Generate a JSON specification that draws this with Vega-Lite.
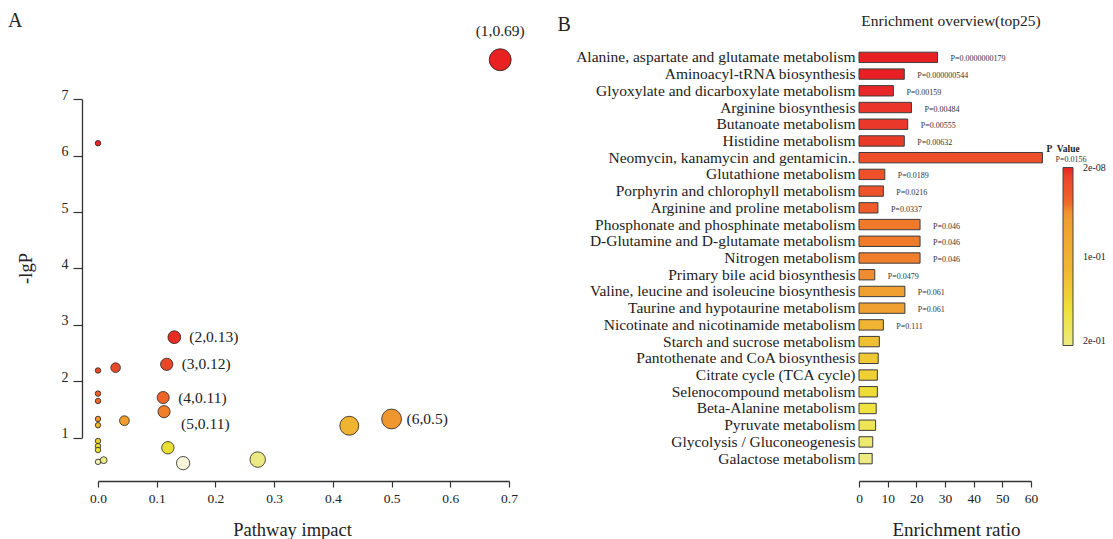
{
  "$schema": "https://vega.github.io/schema/vega-lite/v6.json",
  "padding": {"left": 8, "top": 10, "right": 0, "bottom": 0},
  "autosize": {"type": "pad"},
  "background": "white",
  "spacing": 32,
  "config": {
    "view": {"stroke": null},
    "font": "Liberation Serif",
    "axis": {"labelFont": "Liberation Serif", "titleFont": "Liberation Serif", "labelColor": "#222", "titleColor": "#222", "domainColor": "#333", "tickColor": "#333", "domainWidth": 1.3, "tickWidth": 1.2, "titleFontWeight": "normal", "grid": false, "labelOverlap": false, "labelFlush": false, "labelBound": false},
    "title": {"font": "Liberation Serif", "fontWeight": "normal", "color": "#222"},
    "legend": {"labelFont": "Liberation Serif", "titleFont": "Liberation Serif", "labelColor": "#222", "titleColor": "#222"}
  },
  "resolve": {"scale": {"color": "independent", "x": "independent", "y": "independent", "size": "independent"}, "legend": {"color": "independent", "size": "independent"}},
  "hconcat": [
    {
      "width": 411,
      "height": 418,
      "title": {"text": "A", "anchor": "start", "frame": "group", "fontSize": 20, "dx": -90, "offset": 0, "dy": 7},
      "data": {"values": [
        {"impact": 0.685, "lgp": 7.70, "label": "(1,0.69)"},
        {"impact": 0.0, "lgp": 6.22, "label": ""},
        {"impact": 0.130, "lgp": 2.78, "label": "(2,0.13)"},
        {"impact": 0.117, "lgp": 2.30, "label": "(3,0.12)"},
        {"impact": 0.030, "lgp": 2.24, "label": ""},
        {"impact": 0.0, "lgp": 2.19, "label": ""},
        {"impact": 0.0, "lgp": 1.78, "label": ""},
        {"impact": 0.111, "lgp": 1.71, "label": "(4,0.11)"},
        {"impact": 0.0, "lgp": 1.65, "label": ""},
        {"impact": 0.1125, "lgp": 1.46, "label": "(5,0.11)"},
        {"impact": 0.0, "lgp": 1.33, "label": ""},
        {"impact": 0.500, "lgp": 1.33, "label": "(6,0.5)"},
        {"impact": 0.045, "lgp": 1.30, "label": ""},
        {"impact": 0.0, "lgp": 1.22, "label": ""},
        {"impact": 0.428, "lgp": 1.21, "label": ""},
        {"impact": 0.0, "lgp": 0.94, "label": ""},
        {"impact": 0.0, "lgp": 0.85, "label": ""},
        {"impact": 0.119, "lgp": 0.82, "label": ""},
        {"impact": 0.0, "lgp": 0.78, "label": ""},
        {"impact": 0.272, "lgp": 0.61, "label": ""},
        {"impact": 0.0097, "lgp": 0.60, "label": ""},
        {"impact": 0.0, "lgp": 0.57, "label": ""},
        {"impact": 0.145, "lgp": 0.547, "label": ""}
      ]},
      "encoding": {
        "x": {"field": "impact", "type": "quantitative",
              "scale": {"domain": [0, 0.7], "nice": false, "zero": false},
              "axis": {"values": [0, 0.1, 0.2, 0.3, 0.4, 0.5, 0.6, 0.7], "format": ".1f", "offset": 14, "tickSize": 6, "labelFontSize": 13.5, "labelPadding": 4,
                       "labelOverlap": false, "labelFlush": false, "labelBound": false, "labelSeparation": 0,
                       "title": "Pathway impact", "titleFontSize": 18.5, "titleX": 194, "titleY": 54, "titleBaseline": "alphabetic", "titleAlign": "center"}},
        "y": {"field": "lgp", "type": "quantitative",
              "scale": {"domain": [1, 7], "range": [388.6, 50.2], "nice": false, "zero": false},
              "axis": {"values": [1, 2, 3, 4, 5, 6, 7], "format": "d", "domain": true, "ticks": true, "offset": 16, "tickSize": 9, "labelFontSize": 14, "labelPadding": 5, "labelBaseline": "alphabetic",
                       "labelOverlap": false, "labelFlush": false, "labelBound": false,
                       "title": "-lgP", "titleFontSize": 18.5, "titleX": -47, "titleY": 219, "titleAlign": "center"}}
      },
      "layer": [
        {
          "mark": {"type": "circle", "opacity": 1, "stroke": "#222", "strokeWidth": 0.8},
          "encoding": {
            "size": {"field": "impact", "type": "quantitative", "legend": null,
                     "scale": {"domain": [0, 0.01, 0.03, 0.045, 0.11, 0.145, 0.272, 0.43, 0.5, 0.685], "range": [30, 48, 92, 95, 145, 177, 240, 360, 394, 483]}},
            "color": {"field": "lgp", "type": "quantitative", "legend": null,
                      "scale": {"domain": [0.54, 0.58, 0.62, 0.8, 0.96, 1.22, 1.33, 1.47, 1.72, 2.2, 2.8, 7.75],
                                "range": ["#FAF7E4", "#EFEB9E", "#EAE878", "#E8E036", "#EACC30", "#F0B232", "#F0962E", "#F07C2A", "#EE6428", "#E84C26", "#E82C22", "#E82222"],
                                "interpolate": "rgb"}}
          }
        },
        {
          "transform": [{"filter": {"field": "label", "oneOf": ["(2,0.13)", "(3,0.12)", "(4,0.11)", "(6,0.5)"]}}],
          "mark": {"type": "text", "align": "left", "baseline": "middle", "dx": 15, "dy": 0, "fontSize": 15.5, "font": "Liberation Serif", "color": "#222"},
          "encoding": {"text": {"field": "label"}}
        },
        {
          "transform": [{"filter": {"field": "label", "equal": "(5,0.11)"}}],
          "mark": {"type": "text", "align": "left", "baseline": "middle", "dx": 17, "dy": 12, "fontSize": 15.5, "font": "Liberation Serif", "color": "#222"},
          "encoding": {"text": {"field": "label"}}
        },
        {
          "transform": [{"filter": {"field": "label", "equal": "(1,0.69)"}}],
          "mark": {"type": "text", "align": "center", "baseline": "middle", "dy": -29, "fontSize": 15.5, "font": "Liberation Serif", "color": "#222"},
          "encoding": {"text": {"field": "label"}}
        }
      ]
    },
    {
      "width": 172,
      "height": 418,
      "title": {"text": "Enrichment overview(top25)", "anchor": "middle", "frame": "group", "fontSize": 15.5, "dx": 6, "offset": 0, "dy": 15},
      "data": {"values": [
        {"name": "Alanine, aspartate and glutamate metabolism", "ratio": 27.4, "p": 0.0000000179, "plabel": "P=0.0000000179"},
        {"name": "Aminoacyl-tRNA biosynthesis", "ratio": 15.8, "p": 0.000000544, "plabel": "P=0.000000544"},
        {"name": "Glyoxylate and dicarboxylate metabolism", "ratio": 12.0, "p": 0.00159, "plabel": "P=0.00159"},
        {"name": "Arginine biosynthesis", "ratio": 18.3, "p": 0.00484, "plabel": "P=0.00484"},
        {"name": "Butanoate metabolism", "ratio": 17.0, "p": 0.00555, "plabel": "P=0.00555"},
        {"name": "Histidine metabolism", "ratio": 15.8, "p": 0.00632, "plabel": "P=0.00632"},
        {"name": "Neomycin, kanamycin and gentamicin..", "ratio": 64.0, "p": 0.0156, "plabel": "P=0.0156"},
        {"name": "Glutathione metabolism", "ratio": 9.0, "p": 0.0189, "plabel": "P=0.0189"},
        {"name": "Porphyrin and chlorophyll metabolism", "ratio": 8.5, "p": 0.0216, "plabel": "P=0.0216"},
        {"name": "Arginine and proline metabolism", "ratio": 6.6, "p": 0.0337, "plabel": "P=0.0337"},
        {"name": "Phosphonate and phosphinate metabolism", "ratio": 21.3, "p": 0.046, "plabel": "P=0.046"},
        {"name": "D-Glutamine and D-glutamate metabolism", "ratio": 21.3, "p": 0.0462, "plabel": "P=0.046"},
        {"name": "Nitrogen metabolism", "ratio": 21.3, "p": 0.0464, "plabel": "P=0.046"},
        {"name": "Primary bile acid biosynthesis", "ratio": 5.5, "p": 0.0479, "plabel": "P=0.0479"},
        {"name": "Valine, leucine and isoleucine biosynthesis", "ratio": 16.0, "p": 0.061, "plabel": "P=0.061"},
        {"name": "Taurine and hypotaurine metabolism", "ratio": 16.0, "p": 0.061, "plabel": "P=0.061"},
        {"name": "Nicotinate and nicotinamide metabolism", "ratio": 8.5, "p": 0.111, "plabel": "P=0.111"},
        {"name": "Starch and sucrose metabolism", "ratio": 7.1, "p": 0.125, "plabel": ""},
        {"name": "Pantothenate and CoA biosynthesis", "ratio": 6.7, "p": 0.135, "plabel": ""},
        {"name": "Citrate cycle (TCA cycle)", "ratio": 6.4, "p": 0.145, "plabel": ""},
        {"name": "Selenocompound metabolism", "ratio": 6.4, "p": 0.155, "plabel": ""},
        {"name": "Beta-Alanine metabolism", "ratio": 6.0, "p": 0.165, "plabel": ""},
        {"name": "Pyruvate metabolism", "ratio": 5.8, "p": 0.175, "plabel": ""},
        {"name": "Glycolysis / Gluconeogenesis", "ratio": 4.8, "p": 0.19, "plabel": ""},
        {"name": "Galactose metabolism", "ratio": 4.6, "p": 0.2, "plabel": ""}
      ]},
      "encoding": {
        "y": {"field": "name", "type": "nominal", "sort": null,
              "scale": {"paddingInner": 0.38, "paddingOuter": 0.19},
              "axis": {"title": "B", "titleAngle": 0, "titleX": -302, "titleY": -19, "titleAlign": "left", "titleBaseline": "alphabetic", "titleFontSize": 20,
                       "labelFontSize": 15.5, "ticks": false, "domain": false, "labelPadding": 4, "labelLimit": 400}},
        "x": {"field": "ratio", "type": "quantitative",
              "scale": {"domain": [0, 60], "nice": false},
              "axis": {"values": [0, 10, 20, 30, 40, 50, 60], "offset": 14, "tickSize": 6, "labelFontSize": 13.5, "labelPadding": 4,
                       "labelOverlap": false, "labelFlush": false, "labelBound": false, "labelSeparation": 0,
                       "title": "Enrichment ratio", "titleFontSize": 19, "titleX": 97, "titleY": 54, "titleBaseline": "alphabetic", "titleAlign": "center"}}
      },
      "layer": [
        {
          "mark": {"type": "bar", "stroke": "#3c3c3c", "strokeWidth": 1},
          "encoding": {
            "color": {"field": "p", "type": "quantitative",
                      "scale": {"domain": [0.2, 0.16, 0.14, 0.111, 0.061, 0.048, 0.046, 0.034, 0.016, 0.006, 0.002, 0],
                                "range": ["#ECEA80", "#EEE238", "#F0CC34", "#F0B432", "#F0A030", "#F08E30", "#F07A2A", "#EE5C2A", "#EE4E2A", "#EA3A2A", "#E8282A", "#E82024"],
                                "interpolate": "rgb"},
                      "legend": {"orient": "none", "legendX": 187, "legendY": 95, "title": "P\u00a0 Value", "titleFontSize": 9.5, "titleFontWeight": "bold",
                                 "titleAnchor": "start", "titleAlign": "center", "titlePadding": 14, "gradientLength": 178, "gradientThickness": 10,
                                 "gradientStrokeColor": "#444", "gradientStrokeWidth": 1, "values": [0.00000002, 0.1, 0.2],
                                 "labelExpr": "datum.value < 0.001 ? '2e-08' : (datum.value < 0.15 ? '1e-01' : '2e-01')",
                                 "labelFontSize": 10, "labelOffset": 10, "direction": "vertical", "labelOverlap": false}}
          }
        },
        {
          "transform": [{"filter": "datum.plabel != ''"}],
          "mark": {"type": "text", "align": "left", "baseline": "middle", "dx": 13, "dy": 2, "fontSize": 8, "font": "Liberation Serif", "color": "#333"},
          "encoding": {"text": {"field": "plabel"}}
        }
      ]
    }
  ]
}
